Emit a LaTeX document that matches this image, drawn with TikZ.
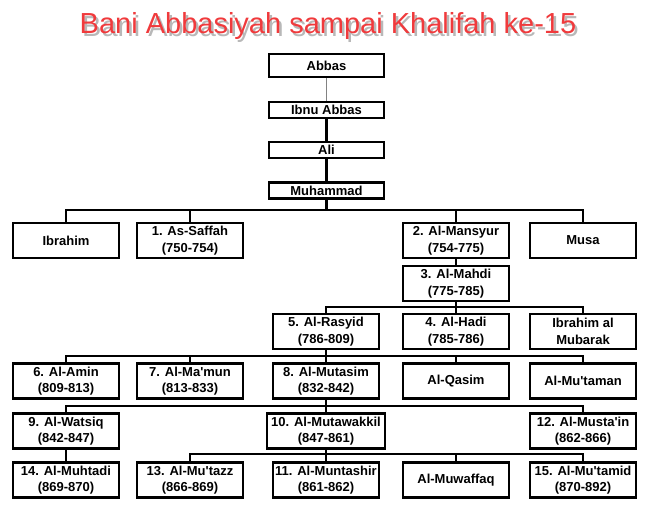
\documentclass[tikz,border=0pt]{standalone}
\usepackage{fontspec}
\setmainfont{Liberation Sans}
\newfontfamily\titlefont{Liberation Sans}
\newfontfamily\boxfont{Liberation Sans}
\definecolor{titlered}{RGB}{240,58,60}
\definecolor{linkgray}{RGB}{130,130,130}
\tikzset{
  box/.style={draw=black, line width=2.2pt, fill=white, align=center, inner sep=0pt,
    font=\boxfont\bfseries\fontsize{13}{16.5}\selectfont, text=black},
  kbox/.style={box, minimum width=106pt, minimum height=35pt},
  tbox/.style={box, minimum width=115pt, minimum height=16pt},
  link/.style={line width=2.2pt, black},
  thinlink/.style={line width=1.2pt, linkgray},
  ttl/.style={font=\titlefont\fontsize{29}{29}\selectfont, anchor=base, inner sep=0pt},
}
\begin{document}
\begin{tikzpicture}[x=1pt,y=-1pt]
\useasboundingbox[fill=white] (0,0) rectangle (650,523);
% title with soft shadow
\node[ttl, text=black, opacity=0.28] (tshadow) at (330.5,36) {Bani Abbasiyah sampai Khalifah ke-15};
\node[ttl, text=titlered] (title) at (328,33) {Bani Abbasiyah sampai Khalifah ke-15};

% top chain
\node[tbox, minimum height=23pt] (abbas) at (326.5,65.5) {Abbas};
\node[tbox] (ibnu) at (326.5,110) {Ibnu Abbas};
\node[tbox] (ali) at (326.5,150) {Ali};
\node[tbox] (muhammad) at (326.5,190.5) {Muhammad};
\draw[thinlink] (abbas) -- (ibnu);
\draw[link] (ibnu) -- (ali);
\draw[link] (ali) -- (muhammad);

% row 1
\node[kbox] (ibrahim) at (66,240.5) {Ibrahim};
\node[kbox] (saffah) at (190,240.5) {1. As-Saffah\\(750-754)};
\node[kbox] (mansyur) at (456,240.5) {2. Al-Mansyur\\(754-775)};
\node[kbox] (musa) at (583,240.5) {Musa};
\coordinate (b1) at (326.5,210);
\draw[link] (muhammad) -- (b1);
\foreach \c in {ibrahim,saffah,mansyur,musa} \draw[link] (\c.north) |- (b1);

% Mahdi
\node[kbox] (mahdi) at (456,283.5) {3. Al-Mahdi\\(775-785)};
\draw[link] (mansyur) -- (mahdi);

% row 3
\node[kbox] (rasyid) at (326,331.5) {5. Al-Rasyid\\(786-809)};
\node[kbox] (hadi) at (456,331.5) {4. Al-Hadi\\(785-786)};
\node[kbox] (mubarak) at (583,331.5) {Ibrahim al\\Mubarak};
\coordinate (b2) at (456,307);
\draw[link] (mahdi) -- (b2);
\foreach \c in {rasyid,hadi,mubarak} \draw[link] (\c.north) |- (b2);

% row 4
\node[kbox] (amin) at (66,381) {6. Al-Amin\\(809-813)};
\node[kbox] (mamun) at (190,381) {7. Al-Ma'mun\\(813-833)};
\node[kbox] (mutasim) at (326,381) {8. Al-Mutasim\\(832-842)};
\node[kbox] (qasim) at (456,381) {Al-Qasim};
\node[kbox] (mutaman) at (583,381) {Al-Mu'taman};
\coordinate (b3) at (326,356);
\draw[link] (rasyid) -- (b3);
\foreach \c in {amin,mamun,mutasim,qasim,mutaman} \draw[link] (\c.north) |- (b3);

% row 5
\node[kbox] (watsiq) at (66,431) {9. Al-Watsiq\\(842-847)};
\node[kbox, minimum width=118pt] (mutawakkil) at (326,431) {10. Al-Mutawakkil\\(847-861)};
\node[kbox] (mustain) at (583,431) {12. Al-Musta'in\\(862-866)};
\coordinate (b4) at (326,406);
\draw[link] (mutasim) -- (b4);
\foreach \c in {watsiq,mutawakkil,mustain} \draw[link] (\c.north) |- (b4);

% row 6
\node[kbox] (muhtadi) at (66,480) {14. Al-Muhtadi\\(869-870)};
\node[kbox] (mutazz) at (190,480) {13. Al-Mu'tazz\\(866-869)};
\node[kbox] (muntashir) at (326,480) {11. Al-Muntashir\\(861-862)};
\node[kbox] (muwaffaq) at (456,480) {Al-Muwaffaq};
\node[kbox] (mutamid) at (583,480) {15. Al-Mu'tamid\\(870-892)};
\draw[link] (watsiq) -- (muhtadi);
\coordinate (b5) at (326,454);
\draw[link] (mutawakkil) -- (b5);
\foreach \c in {mutazz,muntashir,muwaffaq,mutamid} \draw[link] (\c.north) |- (b5);
\end{tikzpicture}
\end{document}
